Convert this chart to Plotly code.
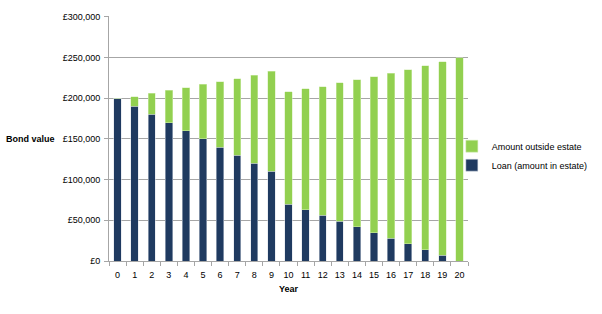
import plotly.graph_objects as go

years = list(range(0, 21))
loan = [200000, 190000, 180000, 170000, 160000, 150000, 140000, 130000, 120000, 110000,
        70000, 63000, 56000, 49000, 42000, 35000, 28000, 21000, 14000, 7000, 0]
outside = [0, 12000, 26000, 40000, 53000, 67000, 80500, 94000, 108000, 123000,
           138000, 148500, 158000, 170000, 180500, 191500, 202500, 214000, 226000, 238000, 250000]

y_ticks = [0, 50000, 100000, 150000, 200000, 250000, 300000]
y_labels = ["£0", "£50,000", "£100,000", "£150,000", "£200,000", "£250,000", "£300,000"]

navy = "#1F3A60"
green = "#92D050"
grid = "#A6A6A6"
font = "Liberation Sans"

fig = go.Figure()
fig.add_trace(go.Bar(x=years, y=loan, name="Loan (amount in estate)",
                     marker=dict(color=navy, line=dict(color="#D9DEE6", width=0.5))))
fig.add_trace(go.Bar(x=years, y=outside, name="Amount outside estate",
                     marker=dict(color=green, line=dict(color="#D6EDB8", width=0.5))))
# invisible trace to show category-boundary tick marks on an overlay axis
fig.add_trace(go.Scatter(x=[-0.5, 20.5], y=[0, 0], xaxis="x2", mode="lines",
                         line=dict(width=0), showlegend=False, hoverinfo="skip"))

fig.update_layout(
    width=602, height=314,
    margin=dict(l=109, r=134, t=16, b=53, autoexpand=False),
    paper_bgcolor="white", plot_bgcolor="white",
    barmode="stack", bargap=0.57,
    font=dict(family=font, size=9, color="#000000"),
    showlegend=True,
    legend=dict(x=0.955, y=0.43, xanchor="left", yanchor="middle",
                traceorder="reversed", font=dict(family=font, size=9),
                bgcolor="rgba(0,0,0,0)", itemwidth=30, tracegroupgap=0),
    xaxis=dict(range=[-0.5, 20.5], tickmode="array", tickvals=years,
               ticktext=[str(y) for y in years], ticks="", showgrid=False,
               showline=True, linecolor=grid, linewidth=1, zeroline=False,
               ticklabelstandoff=5,
               title=dict(text="<b>Year</b>", standoff=6, font=dict(size=9)),
               fixedrange=True),
    xaxis2=dict(range=[-0.5, 20.5], overlaying="x", side="bottom", tickmode="array",
                tickvals=[i - 0.5 for i in range(22)], showticklabels=False,
                ticks="outside", ticklen=4, tickcolor=grid, showgrid=False,
                showline=False, zeroline=False),
    yaxis=dict(range=[0, 301000], tickmode="array", tickvals=y_ticks, ticktext=y_labels,
               showgrid=True, gridcolor=grid, gridwidth=1, ticks="outside", ticklen=4,
               tickcolor=grid, showline=True, linecolor=grid, linewidth=1,
               ticklabelstandoff=2, zeroline=False, fixedrange=True),
    annotations=[dict(text="<b>Bond value</b>", xref="paper", yref="paper",
                      x=-0.145, y=0.5, xanchor="right", yanchor="middle",
                      showarrow=False, font=dict(family=font, size=9))],
)

fig.write_html("out.html")
